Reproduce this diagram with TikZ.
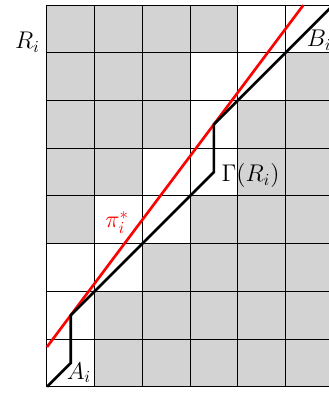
\documentclass[tikz,border=0pt]{standalone}
\usepackage{tikz}
\definecolor{cellgray}{RGB}{211,211,211}
\definecolor{pathred}{RGB}{255,0,0}
\tikzset{
  cell/.style={fill=cellgray, draw=none},
  gridline/.style={draw=black, line width=0.6pt},
  blackpath/.style={draw=black, line width=1.6pt, line join=miter},
  redpath/.style={draw=pathred, line width=1.6pt},
  lbl/.style={inner sep=0pt, font=\fontsize{14}{17}\selectfont}
}
\begin{document}
\begin{tikzpicture}
\useasboundingbox (-0.985,-0.132) rectangle (5.91,8.11);
\clip (-0.985,-0.132) rectangle (5.91,8.11);
% gray cells: fill everything then white cells
\fill[cellgray] (0,0) rectangle (6,8);
\foreach \c/\r in {0/0,0/1,0/2,1/2,1/3,2/3,2/4,3/4,3/5,3/6,4/6,4/7,5/7}
  \fill[white] (\c,\r) rectangle ++(1,1);
\draw[gridline] (0,0) grid (6,8);
% coordinates
\coordinate (O) at (0,0);
\coordinate (p1) at (0.5,0.5);
\coordinate (p2) at (0.5,1.5);
\coordinate (p3) at (3.5,4.5);
\coordinate (p4) at (3.5,5.5);
\coordinate (p5) at (6,8);
\coordinate (r0) at (0,0.8333);
\coordinate (r1) at (5.375,8);
\draw[redpath] (r0) -- (r1);
\draw[blackpath] (O) -- (p1) -- (p2) -- (p3) -- (p4) -- (p5);
% labels
\node[lbl] (A) at (0.67,0.29) {$A_i$};
\node[lbl] (B) at (5.71,7.27) {$B_i$};
\node[lbl] (R) at (-0.41,7.22) {$R_i$};
\node[lbl] (G) at (4.27,4.42) {$\Gamma(R_i)$};
\node[lbl, text=pathred] (P) at (1.47,3.44) {$\pi_i^*$};
\end{tikzpicture}
\end{document}
